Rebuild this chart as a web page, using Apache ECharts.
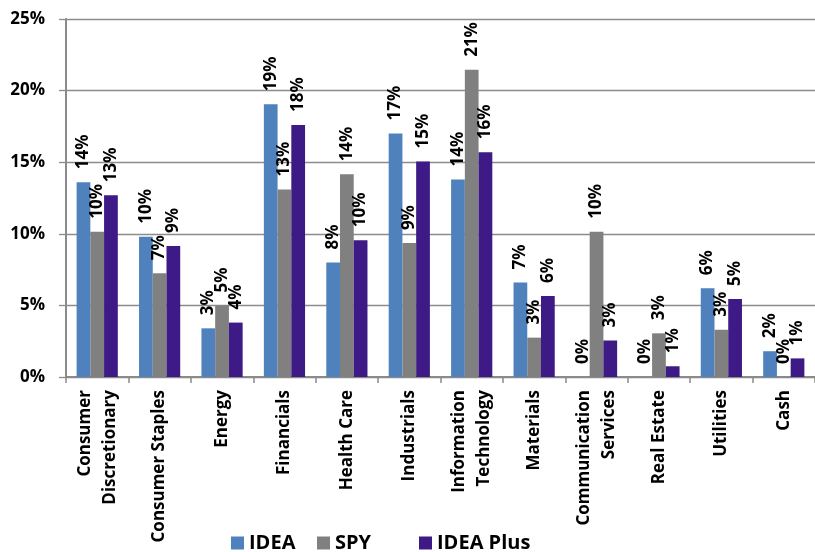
<!DOCTYPE html>
<html>
<head>
<meta charset="utf-8">
<script src="https://cdn.jsdelivr.net/npm/echarts@6/dist/echarts.min.js"></script>
<style>
html,body{margin:0;padding:0;background:#fff;}
#c{width:815px;height:552px;}
</style>
</head>
<body>
<div id="c"></div>
<script>
var categories = ['Consumer\nDiscretionary','Consumer Staples','Energy','Financials','Health Care','Industrials','Information\nTechnology','Materials','Communication\nServices','Real Estate','Utilities','Cash'];
var ideaValues = [13.6, 9.8, 3.4, 19.05, 8.0, 17.0, 13.8, 6.6, 0, 0, 6.2, 1.8];
var spyValues  = [10.15, 7.25, 5.0, 13.1, 14.15, 9.35, 21.45, 2.75, 10.15, 3.05, 3.3, 0];
var plusValues = [12.7, 9.15, 3.8, 17.6, 9.55, 15.05, 15.7, 5.65, 2.55, 0.75, 5.45, 1.3];
var yTicks = [0, 5, 10, 15, 20, 25];

var FONT = '"Open Sans", "Noto Sans", sans-serif';
var chart = echarts.init(document.getElementById('c'));
function lbl() {
  return {
    show: true, position: 'top', rotate: 90, align: 'left', verticalAlign: 'middle',
    distance: 13, color: '#000', fontFamily: FONT, fontWeight: 'bold', fontSize: 17,
    formatter: function (p) { return Math.round(p.value) + '%'; }
  };
}
function legend(name, left) {
  return {
    data: [name], left: left, top: 533, padding: 0, itemWidth: 13, itemHeight: 13, itemGap: 0,
    icon: 'rect', textStyle: {fontFamily: FONT, fontWeight: 'bold', fontSize: 20, color: '#000'}
  };
}
chart.setOption({
  animation: false,
  legend: [legend('IDEA', 231), legend('SPY', 317), legend('IDEA Plus', 419)],
  grid: {left: 66, right: -11, top: 19, bottom: 175, containLabel: false},
  xAxis: {
    type: 'category', data: categories,
    axisLine: {lineStyle: {color: '#8a8a8a', width: 2}},
    axisTick: {show: true, length: 6, lineStyle: {color: '#8a8a8a', width: 1.5}},
    axisLabel: {rotate: 90, interval: 0, margin: 13, color: '#000', fontFamily: FONT, fontWeight: 'bold', fontSize: 17, lineHeight: 25}
  },
  yAxis: {
    type: 'value', min: yTicks[0], max: yTicks[yTicks.length - 1], interval: 5,
    axisLine: {show: true, lineStyle: {color: '#8a8a8a', width: 2}},
    axisTick: {show: true, length: 7, lineStyle: {color: '#8a8a8a', width: 1.3}},
    splitLine: {lineStyle: {color: '#8c8c8c', width: 1.3}},
    axisLabel: {margin: 21, color: '#000', fontFamily: FONT, fontWeight: 'bold', fontSize: 17, formatter: '{value}%'}
  },
  series: [
    {name: 'IDEA', type: 'bar', data: ideaValues, barGap: '0%', barCategoryGap: '34%', itemStyle: {color: '#4F81BD'}, label: lbl()},
    {name: 'SPY', type: 'bar', data: spyValues, itemStyle: {color: '#808080'}, label: lbl()},
    {name: 'IDEA Plus', type: 'bar', data: plusValues, itemStyle: {color: '#3D1A85'}, label: lbl()}
  ]
});
</script>
</body>
</html>
